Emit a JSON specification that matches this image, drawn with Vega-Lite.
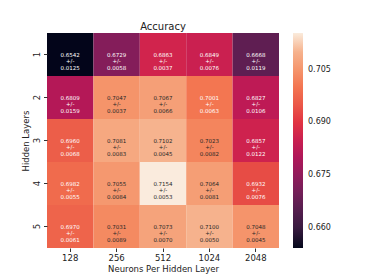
{
  "$schema": "https://vega.github.io/schema/vega-lite/v6.json",
  "autosize": "none",
  "width": 232,
  "height": 215,
  "padding": {"left": 47, "top": 33, "right": 95, "bottom": 32},
  "background": "white",
  "config": {"font": "DejaVu Sans", "view": {"stroke": null}},
  "title": {"text": "Accuracy", "fontSize": 10, "fontWeight": "normal", "font": "DejaVu Sans", "color": "#222", "offset": 1},
  "data": {"values": [
    {"layers": "1", "neurons": "128", "mean": 0.6542, "std": 0.0125},
    {"layers": "1", "neurons": "256", "mean": 0.6729, "std": 0.0058},
    {"layers": "1", "neurons": "512", "mean": 0.6863, "std": 0.0037},
    {"layers": "1", "neurons": "1024", "mean": 0.6849, "std": 0.0076},
    {"layers": "1", "neurons": "2048", "mean": 0.6668, "std": 0.0119},
    {"layers": "2", "neurons": "128", "mean": 0.6809, "std": 0.0159},
    {"layers": "2", "neurons": "256", "mean": 0.7047, "std": 0.0037},
    {"layers": "2", "neurons": "512", "mean": 0.7067, "std": 0.0066},
    {"layers": "2", "neurons": "1024", "mean": 0.7001, "std": 0.0063},
    {"layers": "2", "neurons": "2048", "mean": 0.6827, "std": 0.0106},
    {"layers": "3", "neurons": "128", "mean": 0.6960, "std": 0.0068},
    {"layers": "3", "neurons": "256", "mean": 0.7081, "std": 0.0083},
    {"layers": "3", "neurons": "512", "mean": 0.7102, "std": 0.0045},
    {"layers": "3", "neurons": "1024", "mean": 0.7023, "std": 0.0082},
    {"layers": "3", "neurons": "2048", "mean": 0.6857, "std": 0.0122},
    {"layers": "4", "neurons": "128", "mean": 0.6982, "std": 0.0055},
    {"layers": "4", "neurons": "256", "mean": 0.7055, "std": 0.0084},
    {"layers": "4", "neurons": "512", "mean": 0.7154, "std": 0.0053},
    {"layers": "4", "neurons": "1024", "mean": 0.7064, "std": 0.0081},
    {"layers": "4", "neurons": "2048", "mean": 0.6932, "std": 0.0076},
    {"layers": "5", "neurons": "128", "mean": 0.6970, "std": 0.0061},
    {"layers": "5", "neurons": "256", "mean": 0.7031, "std": 0.0089},
    {"layers": "5", "neurons": "512", "mean": 0.7073, "std": 0.0070},
    {"layers": "5", "neurons": "1024", "mean": 0.7100, "std": 0.0050},
    {"layers": "5", "neurons": "2048", "mean": 0.7048, "std": 0.0045}
  ]},
  "transform": [
    {"calculate": "format(datum.mean, '.4f') + '\\n+/-\\n' + format(datum.std, '.4f')", "as": "label"}
  ],
  "encoding": {
    "x": {"field": "neurons", "type": "ordinal", "sort": ["128", "256", "512", "1024", "2048"],
      "scale": {"paddingInner": 0, "paddingOuter": 0},
      "axis": {"title": "Neurons Per Hidden Layer", "labelAngle": 0, "domain": false, "tickSize": 3.5, "tickColor": "#333", "labelFontSize": 8.5, "labelColor": "#222", "titleFontSize": 8.5, "titleFontWeight": "normal", "titleColor": "#222", "labelPadding": 2, "titlePadding": 2}},
    "y": {"field": "layers", "type": "ordinal", "sort": ["1", "2", "3", "4", "5"],
      "scale": {"paddingInner": 0, "paddingOuter": 0},
      "axis": {"title": "Hidden Layers", "labelAngle": -90, "labelAlign": "center", "labelBaseline": "bottom", "domain": false, "tickSize": 3.5, "tickColor": "#333", "labelFontSize": 8.5, "labelColor": "#222", "titleFontSize": 8.5, "titleFontWeight": "normal", "titleColor": "#222", "labelPadding": 2, "titlePadding": 2}}
  },
  "layer": [
    {
      "mark": {"type": "rect"},
      "encoding": {
        "color": {"field": "mean", "type": "quantitative",
          "scale": {"domain": [0.6542, 0.6593, 0.6695, 0.6797, 0.6899, 0.7001, 0.7103, 0.7154],
                    "range": ["#03051a", "#35193e", "#701f57", "#ad1759", "#e13342", "#f37651", "#f6b48f", "#faebdd"]},
          "legend": {"title": null, "orient": "right", "offset": 14, "gradientLength": 215, "gradientThickness": 10,
                     "values": [0.66, 0.675, 0.69, 0.705], "format": ".3f", "labelFontSize": 8, "labelColor": "#222", "labelOffset": 5, "gradientStrokeWidth": 0}}
      }
    },
    {
      "mark": {"type": "text", "fontSize": 5.5, "lineBreak": "\n", "lineHeight": 6.7, "baseline": "middle"},
      "encoding": {
        "text": {"field": "label"},
        "color": {"condition": {"test": "datum.mean > 0.701", "value": "#262626"}, "value": "white"}
      }
    }
  ]
}
